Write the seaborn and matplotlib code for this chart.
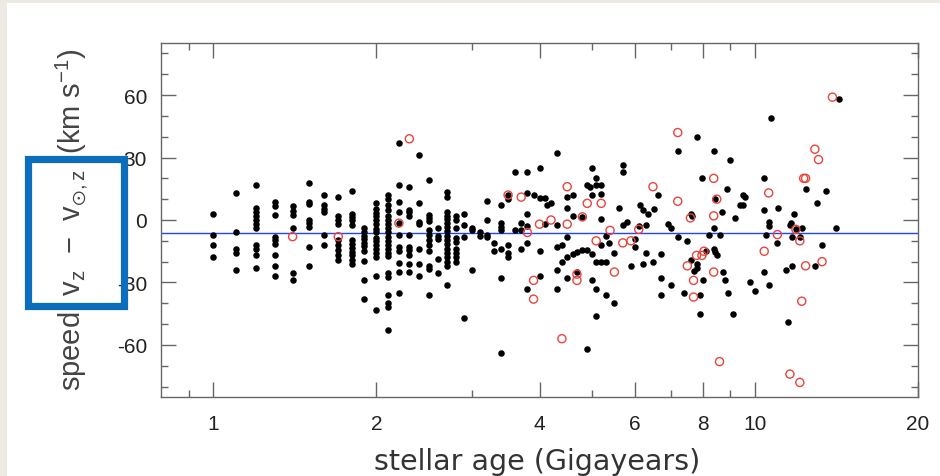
import numpy as np
import pandas as pd
import seaborn as sns
from matplotlib import pyplot as plt
from matplotlib.patches import Rectangle

#%% Data

# young stars sit in age columns
col_ages = [1.0, 1.1, 1.2, 1.3, 1.4, 1.5, 1.6, 1.7, 1.8, 1.9, 2.0, 2.1, 2.2, 2.3,
            2.4, 2.5, 2.6, 2.7, 2.8, 2.9, 3.0, 3.1, 3.2, 3.3, 3.4, 3.5, 3.6, 3.7, 3.8]
col_speeds = [
    [3, -7, -12, -18],
    [13, -6, -14, -16, -24],
    [17, 6, 4, 2, 0, -2, -4, -12, -14, -17, -23],
    [8.5, 6.5, 2.5, -8, -9.5, -11.5, -17, -22, -27],
    [6.5, 4.5, 2.5, -4, -25.5, -29],
    [18, 8.5, 7.5, 0, -1.5, -3.5, -13, -22],
    [12, 7, 5.5, 4, -7, -12],
    [11, 2, 0, -2, -9.5, -12, -14.5, -17, -19],
    [14, 3, 1.5, 0, -2.5, -9.5, -11.5, -13.5, -15.5, -17, -19, -21],
    [-4, -6, -7.5, -9, -11, -12.5, -15, -19.5, -29, -38],
    [8, 5.5, 3.5, 2, 0, -2, -4.5, -6, -8.5, -10, -12, -14, -16, -18, -27, -43],
    [12, 10, 7, 5, 2, 0, -2, -4, -6, -8, -10, -12, -14, -16, -17.5, -25.5,
     -27.5, -36, -40, -42, -53],
    [37, 17, 8.5, 4, -1.5, -7, -13, -15, -20.5, -25, -35],
    [16, 5, 4, 2, -7, -13, -14.5, -17, -21, -25],
    [31, 8, -1, -2, -14, -21, -27],
    [19, 2.5, 1, -0.5, -5, -7, -9.5, -12, -15, -22, -23.5, -36],
    [-4, -7.5, -9, -18.5, -25.5],
    [13.5, 11, 4, 2, 0.5, -1.5, -3.5, -5.5, -7.5, -9.5, -11.5, -14, -16, -18,
     -20, -22, -31],
    [2, 0, -4, -8.5, -10.5, -14, -16, -18, -20],
    [3, -2.5, -8, -47],
    [-4, -5, -24],
    [-6, -7.5],
    [9, 0, -7, -8],
    [-11, -15],
    [7, -1.5, -3.5, -5, -14, -28, -64],
    [12, 10, -12, -16, -18],
    [23, -5],
    [-1.5, -5, -14],
    [23, 13, 3, -3, -11, -33],
]

# older stars, scattered
old_age = [3.9, 4.0, 4.0, 4.0, 4.0, 4.1, 4.1, 4.13, 4.2, 4.31, 4.31, 4.31, 4.31,
           4.31, 4.4, 4.4, 4.5, 4.5, 4.5, 4.5, 4.5, 4.61, 4.61, 4.61, 4.69, 4.69,
           4.79, 4.79, 4.9, 4.9, 4.9, 4.95, 5.0, 5.0, 5.0, 5.0, 5.09, 5.09, 5.09,
           5.09, 5.09, 5.2, 5.2, 5.2, 5.2, 5.2, 5.3, 5.3, 5.3, 5.38, 5.5, 5.5,
           5.6, 5.7, 5.7, 5.7, 5.8, 5.9, 6.0, 6.0, 6.1, 6.12, 6.21, 6.21, 6.29,
           6.29, 6.34, 6.48, 6.5, 6.61, 6.71, 6.71, 6.71, 6.9, 7.0, 7.0, 7.2, 7.2,
           7.41, 7.49, 7.62, 7.65, 7.62, 7.7, 7.81, 7.8, 7.83, 7.9, 7.9, 7.98,
           8.0, 8.12, 8.22, 8.39, 8.39, 8.39, 8.44, 8.51, 8.45, 8.6, 8.7, 8.72,
           8.81, 8.88, 8.9, 9.0, 9.12, 9.2, 9.4, 9.49, 9.5, 9.6, 9.79, 10.0,
           10.4, 10.4, 10.4, 10.48, 10.6, 10.6, 10.6, 10.7, 11.0, 11.05, 11.4,
           11.49, 11.6, 11.65, 11.7, 11.7, 11.8, 11.9, 12.1, 12.2, 12.4, 12.9,
           13.0, 13.3, 13.5, 14.1, 14.3]
old_speed = [12, 25, 10.5, -15, -27, 10.5, -2, 7, 8, 32, -2.5, -13, -24,
             -33, -12, -20, 11, 6, -8, -18, -28, 12, 2, -16.5, -15.5, -25,
             1.5, -14.5, 17, -14.5, -62, 16, 25, 12, -16.5, -29, 20, 17, -20,
             -33, -46, 17, 12.5, 0.5, -12, -20, -7.5, -20, -36, -11, -16, -40,
             6, 26.5, 23, -2.5, -1, -22, -9, -13, -3, 7, 5, -21, -2.5,
             -16, 3, -20, 5.5, 12, -16.5, -28, -36, -2, -4, -31, 33, -8,
             -35, -10, 3, 2, -19, -24.5, 40, -21, -23, -36, -45, 20,
             -29, -15, -7, 33, -4, -14, -15.5, -17, 10, -7, 4, -25,
             -29, 15, -35, 29, -45, 1, 7, 12, 7, 11, -30, -34,
             20, 5, -25, -7, -1, -3, -31, 49, -11, 6, -24,
             -49, -2.5, -1.5, -8, -22, 3, -4.5, -8, -4, 15, -22,
             8, -12, 14, -4, 58]

# red open circles
red_age = [1.4, 1.7, 2.2, 2.3, 3.5, 3.7, 3.8, 3.9, 3.9, 4.0, 4.2, 4.4, 4.5, 4.5,
           4.69, 4.69, 4.8, 4.9, 5.09, 5.2, 5.4, 5.5, 5.7, 5.9, 6.1, 6.48, 7.2,
           7.2, 7.5, 7.6, 7.7, 7.7, 7.8, 7.98, 8.05, 8.39, 8.39, 8.39, 8.5, 8.6,
           10.4, 10.6, 11.0, 11.6, 11.9, 12.1, 12.1, 12.2, 12.3, 12.4, 12.4,
           12.9, 13.1, 13.3, 13.9]
red_speed = [-8, -8, -1.5, 39, 12, 11, -6, -29, -38, -2, 0, -57, 16, -2,
             -26, -29, 1.5, 8, -10, 8, -5, -25, -11, -10, -4.5, 16, 42,
             9, -22, 1, -29, -37, -17, -17, -15, 20, 2, -25, 10, -68,
             -15, 13, -7, -74, -4.5, -10, -78, -39, 20, 20, -22,
             34, 29, -20, 59]

mean_speed = -6.4

x_major = [1, 2, 4, 6, 8, 10, 20]
x_minor = [0.9, 3, 5, 7, 9]
y_major = [-60, -30, 0, 30, 60]

#%% Plot

black = pd.DataFrame({
    'age': np.concatenate([[a] * len(s) for a, s in zip(col_ages, col_speeds)] + [old_age]),
    'speed': np.concatenate([np.concatenate(col_speeds), old_speed]),
})
red = pd.DataFrame({'age': red_age, 'speed': red_speed})

sns.set_style('ticks')
plt.rcParams['font.family'] = ['Liberation Sans', 'DejaVu Sans']
plt.rcParams['mathtext.fontset'] = 'custom'
plt.rcParams['mathtext.rm'] = 'Liberation Sans'
plt.rcParams['mathtext.it'] = 'Liberation Sans'

W, H = 940, 477
fig = plt.figure(figsize=(W / 100, H / 100), dpi=100)
fig.patch.set_facecolor('#EDEAE3')
fig.add_artist(Rectangle((7 / W, 0), 1, 1 - 4 / H, transform=fig.transFigure,
                         facecolor='white', edgecolor='none', zorder=0))

ax = fig.add_axes([161 / W, 1 - 398 / H, (918 - 161) / W, (398 - 44) / H])
ax.set_xscale('log')

sns.scatterplot(data=black, x='age', y='speed', ax=ax, color='black',
                s=22, linewidth=0, zorder=3)
sns.scatterplot(data=red, x='age', y='speed', ax=ax, marker='o',
                facecolor='none', edgecolor='#E8453C', s=34, linewidth=1.0,
                zorder=4)
ax.axhline(mean_speed, color='#2244FF', lw=1.0, zorder=2)

ax.set_xlim(0.8, 20)
ax.set_ylim(-85, 85)
ax.set_xticks(x_major)
ax.set_xticklabels([str(v) for v in x_major])
ax.set_xticks(x_minor, minor=True)
ax.set_xticklabels([], minor=True)
ax.set_yticks(y_major)
ax.set_yticklabels([str(v) for v in y_major])
ax.set_yticks(np.arange(-80, 81, 10), minor=True)

for side in ['top', 'right', 'bottom', 'left']:
    ax.spines[side].set_visible(True)
    ax.spines[side].set_color('#666666')
    ax.spines[side].set_linewidth(1.0)

ax.tick_params(which='both', direction='in', top=True, right=True,
               colors='#666666', labelcolor='#222222', width=1.0)
ax.tick_params(which='major', length=11, labelsize=15)
ax.tick_params(axis='x', which='major', pad=12)
ax.tick_params(axis='y', which='major', pad=10)
ax.tick_params(which='minor', length=5)
ax.set_xlabel('')
ax.set_ylabel('')

fig.text(537 / W, 1 - 470 / H, 'stellar age (Gigayears)', ha='center',
         va='baseline', fontsize=20.5, color='#333333',
         family=['DejaVu Sans'])
fig.text(72 / W, 1 - 220 / H,
         r'speed  $\mathregular{v_z}$  $-$  $\mathregular{v_{\odot,z}}$  (km s$^{-1}$)',
         rotation=90, ha='center', va='center', fontsize=21, color='#444444')

# highlight box drawn over the axis label
fig.add_artist(Rectangle((27.8 / W, 1 - 306.5 / H), 96 / W, 147 / H,
                         transform=fig.transFigure, fill=False,
                         edgecolor='#0A6EBD', linewidth=5.2, zorder=10))

fig.savefig('out.png', dpi=100, facecolor=fig.get_facecolor())
